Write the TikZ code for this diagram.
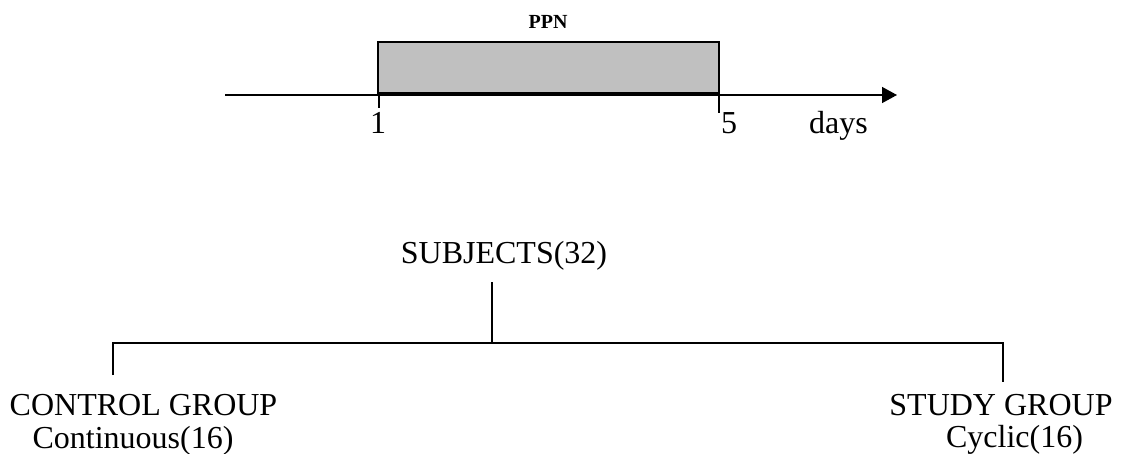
\documentclass[tikz,border=0pt]{standalone}
\usepackage{fontspec}
\setmainfont{Liberation Serif}
\usetikzlibrary{arrows.meta,positioning,calc}
\definecolor{boxgray}{RGB}{192,192,192}
\tikzset{
  txt/.style={font=\fontsize{32}{36}\selectfont, inner sep=0pt, anchor=base},
  line/.style={line width=1.4pt},
}

\begin{document}
\begin{tikzpicture}[x=1pt,y=-1pt]
  \useasboundingbox (0,0) rectangle (1123,453);

  % Time axis
  \draw[line,-{Triangle[length=15pt,width=16pt]}] (225,95) -- (897,95);

  % PPN window
  \draw[line, fill=boxgray] (378,42) rectangle (719,93);
  \node[txt, font=\bfseries\fontsize{20}{24}\selectfont] (ppn) at (548,28) {PPN};
  \draw[line] (379,95) -- (379,108);
  \draw[line] (719,95) -- (719,113);
  \node[txt] (d1) at (378,133) {1};
  \node[txt] (d5) at (729,133) {5};
  \node[txt] (days) at (838.5,133) {days};

  % Groups
  \node[txt] (subj) at (504,263) {SUBJECTS(32)};
  \node[txt] (ctrl) at (143.5,415) {CONTROL GROUP};
  \node[txt] (ctrlsub) at (133,448) {Continuous(16)};
  \node[txt] (study) at (1001,415.5) {STUDY GROUP};
  \node[txt] (studysub) at (1014.5,447.5) {Cyclic(16)};

  \coordinate (top) at (492,282);
  \coordinate (split) at (492,343);
  \coordinate (cl) at (113,343);
  \coordinate (clend) at (113,375);
  \coordinate (cr) at (1003,343);
  \coordinate (crend) at (1003,382);

  \draw[line] (top) -- (split);
  \draw[line] (clend) -- (cl) -- (cr) -- (crend);
\end{tikzpicture}
\end{document}
